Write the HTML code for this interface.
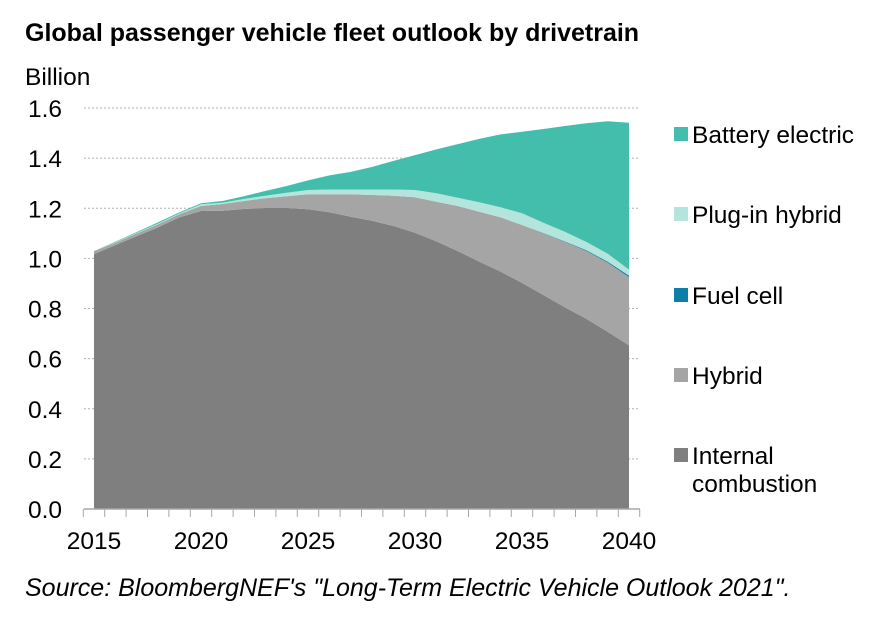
<!DOCTYPE html>
<html><head><meta charset="utf-8"><style>
body{margin:0;background:#fff;font-family:"Liberation Sans",Arial,sans-serif;}
svg text{font-family:"Liberation Sans",Arial,sans-serif;}
</style></head><body>
<svg id="chart" width="887" height="617" xmlns="http://www.w3.org/2000/svg">
<text x="25" y="41" font-size="25" font-weight="bold" fill="#000">Global passenger vehicle fleet outlook by drivetrain</text>
<text x="25" y="85" font-size="24.5" fill="#000">Billion</text>
<g id="grid"></g><g id="areas"></g><g id="axes"></g><g id="legend"></g>
<text x="25" y="596" font-size="25" font-style="italic" fill="#000">Source: BloombergNEF's "Long-Term Electric Vehicle Outlook 2021".</text>
</svg>
<script>
const years=[2015,2016,2017,2018,2019,2020,2021,2022,2023,2024,2025,2026,2027,2028,2029,2030,2031,2032,2033,2034,2035,2036,2037,2038,2039,2040];
const ice=[1.017,1.053,1.089,1.124,1.164,1.189,1.190,1.197,1.201,1.201,1.196,1.184,1.166,1.150,1.129,1.102,1.068,1.029,0.987,0.947,0.902,0.854,0.805,0.759,0.707,0.653];
const hybrid=[0.012,0.010,0.011,0.012,0.013,0.020,0.027,0.032,0.039,0.047,0.060,0.072,0.090,0.103,0.121,0.142,0.158,0.180,0.199,0.217,0.231,0.246,0.261,0.271,0.276,0.272];
const fuelCell=[0,0,0,0,0,0,0,0,0,0,0,0,0,0,0,0,0,0,0,0,0,0.001,0.002,0.003,0.004,0.006];
const phev=[0.001,0.002,0.002,0.003,0.003,0.007,0.005,0.008,0.010,0.014,0.017,0.019,0.019,0.022,0.025,0.029,0.034,0.033,0.038,0.040,0.047,0.041,0.038,0.033,0.032,0.024];
const bev=[0,0.002,0.003,0.005,0.004,0.004,0.007,0.011,0.019,0.027,0.038,0.056,0.070,0.090,0.114,0.139,0.175,0.214,0.253,0.291,0.325,0.374,0.422,0.473,0.528,0.586];
const yTicks=[0,0.2,0.4,0.6,0.8,1.0,1.2,1.4,1.6];
const xTickLabels=[2015,2020,2025,2030,2035,2040];
const seriesNames=["Battery electric","Plug-in hybrid","Fuel cell","Hybrid","Internal combustion"];
const NS="http://www.w3.org/2000/svg";
const X0=94,X1=629,Y0=509,Y1=108;
function xs(y){return X0+(y-2015)/25*(X1-X0);}
function ys(v){return Y0-v/1.6*(Y0-Y1);}
function mk(t,a,p){const e=document.createElementNS(NS,t);for(const k in a)e.setAttribute(k,a[k]);p.appendChild(e);return e;}
const grid=document.getElementById('grid'),areas=document.getElementById('areas'),axes=document.getElementById('axes'),legend=document.getElementById('legend');
yTicks.forEach(v=>{
  if(v>0){const l=mk('line',{x1:84,x2:640,y1:ys(v),y2:ys(v),stroke:'#b0b0b0','stroke-width':1,'stroke-dasharray':'2,2'},grid);
  
  }
  const t=mk('text',{x:62,y:ys(v)+9,'font-size':24.5,'text-anchor':'end',fill:'#000'},axes);
  t.textContent=v.toFixed(1);
  
  
});
const series=[ice,hybrid,fuelCell,phev,bev];
const colors=['#7f7f7f','#a5a5a5','#0b7fa7','#b3e5dd','#43bdac'];
const names=['area-internal-combustion','area-hybrid','area-fuel-cell','area-plug-in-hybrid','area-battery-electric'];
let base=years.map(()=>0);
series.forEach((s,i)=>{
  const top=base.map((b,j)=>b+s[j]);
  let d='M'+years.map((y,j)=>xs(y)+','+ys(top[j])).join(' L');
  for(let j=years.length-1;j>=0;j--)d+=' L'+xs(years[j])+','+ys(base[j]);
  d+='Z';
  const p=mk('path',{d:d,fill:colors[i]},areas);
  
  
  base=top;
});
const ax=mk('line',{x1:84,x2:640,y1:Y0,y2:Y0,stroke:'#a6a6a6','stroke-width':1.5},axes);


for(let y=2014.5;y<=2040.6;y+=1){
  const tk=mk('line',{x1:xs(y),x2:xs(y),y1:Y0,y2:Y0+8,stroke:'#a6a6a6','stroke-width':1},axes);
  
  
}
xTickLabels.forEach(y=>{
  const t=mk('text',{x:xs(y),y:549,'font-size':24.5,'text-anchor':'middle',fill:'#000'},axes);
  t.textContent=y;
  
  
});
const legColors=['#43bdac','#b3e5dd','#0b7fa7','#a5a5a5','#7f7f7f'];
const legY=[134,214,295,375,455];
seriesNames.forEach((n,i)=>{
  const g=mk('g',{},legend);
  
  
  mk('rect',{x:674,y:legY[i]-7,width:14,height:14,fill:legColors[i]},g);
  if(n==="Internal combustion"){
    const t1=mk('text',{x:692,y:legY[i]+9,'font-size':24.5,fill:'#000'},g);t1.textContent="Internal";
    const t2=mk('text',{x:692,y:legY[i]+37,'font-size':24.5,fill:'#000'},g);t2.textContent="combustion";
  } else {
    const t=mk('text',{x:692,y:legY[i]+9,'font-size':24.5,fill:'#000'},g);t.textContent=n;
  }
});
</script>
</body></html>
